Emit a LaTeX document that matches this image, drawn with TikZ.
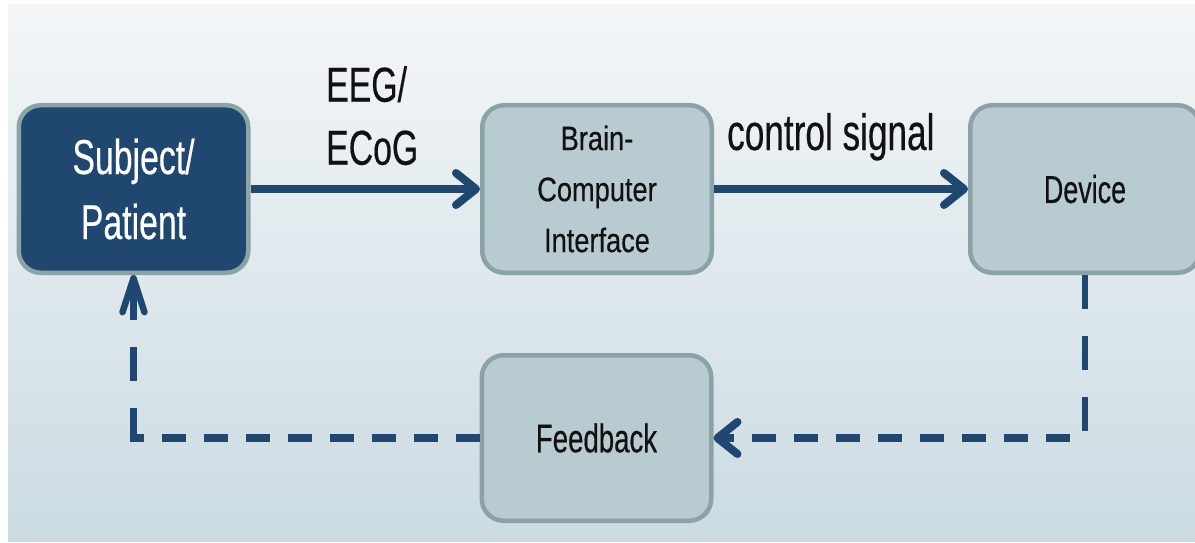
\documentclass[tikz,border=0pt]{standalone}
\usepackage{fontspec}
\setmainfont{Liberation Sans}[FakeStretch=0.69,FakeBold=0.35]
\newfontfamily\bcifont{Liberation Sans}[FakeStretch=0.8,FakeBold=0.35]
\usetikzlibrary{arrows.meta}
\definecolor{navy}{HTML}{1F4770}
\definecolor{boxfill}{HTML}{B8CBD1}
\definecolor{boxline}{HTML}{8AA3A6}
\definecolor{bgtop}{HTML}{F4F6F8}
\definecolor{bgbot}{HTML}{CADBE2}
\definecolor{ink}{HTML}{111111}
\begin{document}
\begin{tikzpicture}[x=1pt,y=-1pt,
  box/.style={draw=boxline, line width=4.5pt, fill=boxfill, rounded corners=22pt,
    minimum width=229.5pt, minimum height=167.5pt, inner sep=0pt, align=center, text=ink},
  darkbox/.style={box, fill=navy, text=white},
  lbl/.style={inner sep=0pt, text=ink},
  hflow/.style={draw=navy, line width=8pt, -{Straight Barb[length=20pt,width=32pt,round]}},
  hdash/.style={draw=navy, line width=8pt, dash pattern=on 24pt off 18pt},
  vdash/.style={draw=navy, line width=6.5pt, dash pattern=on 34pt off 27pt},
  htip/.style={-{Straight Barb[length=20pt,width=32pt,round]}},
  vtip/.style={-{Straight Barb[length=34pt,width=22pt,round]}}
]
\useasboundingbox (0,0) rectangle (1195,543);
\fill[white] (0,0) rectangle (1195,543);
\shade[top color=bgtop, bottom color=bgbot] (8,5) rectangle (1195,541);

\node[darkbox, font=\fontsize{49}{65}\selectfont] (subj) at (133.5,189) {Subject/\\Patient};
\node[box, font=\bcifont\fontsize{34}{51}\selectfont] (bci) at (597,189) {Brain-\\Computer\\Interface};
\node[box, font=\fontsize{39}{47}\selectfont] (dev) at (1085,189) {Device};
\node[box, minimum height=165.5pt, font=\fontsize{40}{48}\selectfont] (fb) at (596.5,438) {Feedback};

\node[lbl, anchor=north west, align=left, font=\fontsize{49}{63}\selectfont] (eeg) at (326,66) {EEG/\\ECoG};
\node[lbl, anchor=base west, font=\fontsize{51}{60}\selectfont] (ctl) at (727,150) {control signal};

\draw[hflow] (subj.east) -- (bci.west);
\draw[hflow] (bci.east) -- (dev.west);

\coordinate (c1) at (dev.south |- fb.east);
\coordinate (c2) at (subj.south |- fb.west);
\draw[vdash] (dev.south) -- (c1);
\draw[hdash, dash phase=27pt, htip] (c1) -- (fb.east);
\draw[hdash] (fb.west) -- ([xshift=-3.25pt]c2);
\draw[vdash, vtip] ([yshift=-4pt]c2) -- (subj.south);
\end{tikzpicture}
\end{document}
